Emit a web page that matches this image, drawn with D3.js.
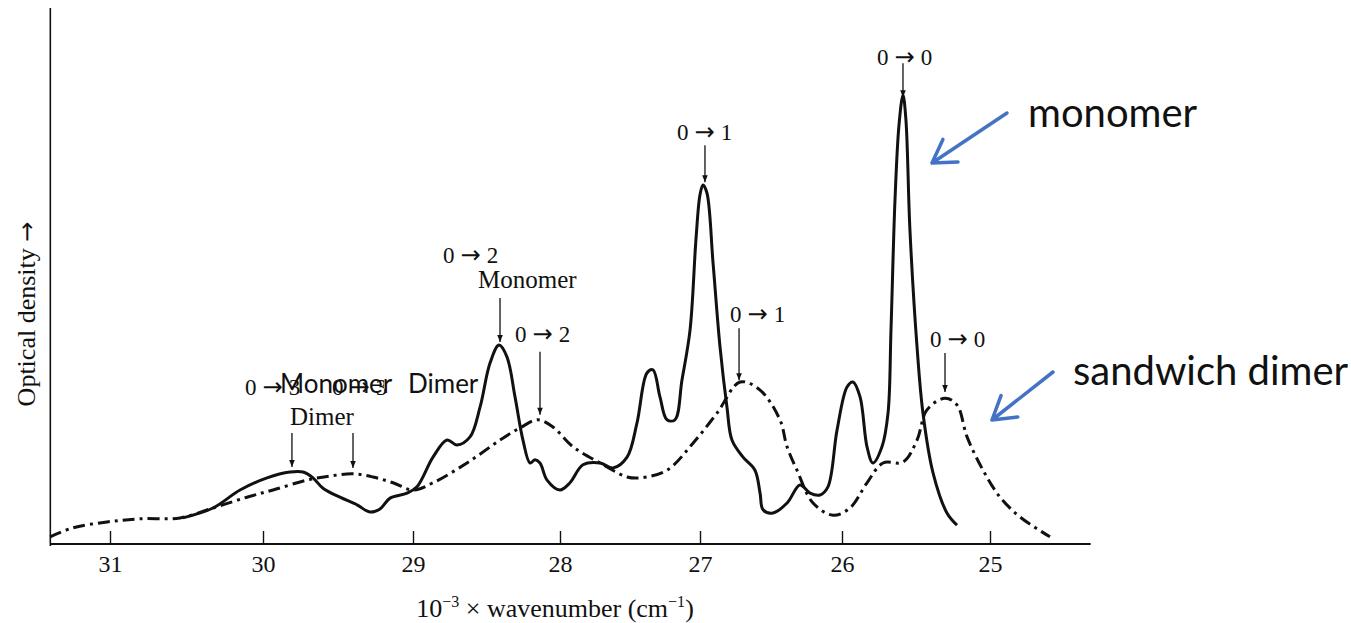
<!DOCTYPE html>
<html>
<head>
<meta charset="utf-8">
<script src="https://cdn.jsdelivr.net/npm/d3@7/dist/d3.min.js"></script>
<style>
  body { margin: 0; background: #fff; }
  svg text { fill: #111; }
  .serif { font-family: "Liberation Serif", "Times New Roman", serif; }
  .sans { font-family: Lato, "Open Sans", sans-serif; }
  .arr { font-family: "DejaVu Sans", sans-serif; }
</style>
</head>
<body>
<svg class="chart"></svg>
<script>
const size = {w: 1351, h: 623};

// wavenumber ticks (10^3 cm^-1), axis runs high -> low
const wnTicks = [31, 30, 29, 28, 27, 26, 25];
const wnLimits = [31.39, 24.32];

// monomer absorption, [wavenumber, optical density]
const monomer = [
    [30.523, 5.8], [30.327, 8.0], [30.150, 12.0], [29.973, 14.7], [29.820, 16.0],
    [29.733, 16.0], [29.667, 14.7], [29.600, 12.4], [29.487, 10.4], [29.373, 8.7],
    [29.287, 7.1], [29.220, 7.8], [29.153, 10.2], [29.040, 11.3], [28.973, 12.7],
    [28.864, 19.3], [28.769, 23.1], [28.701, 22.0], [28.612, 23.8], [28.544, 30.4],
    [28.476, 40.2], [28.415, 44.2], [28.361, 41.6], [28.306, 32.7], [28.252, 23.1],
    [28.204, 18.0], [28.170, 18.7], [28.136, 18.0], [28.088, 14.2], [28.000, 12.0],
    [27.929, 13.6], [27.836, 17.6], [27.714, 18.0], [27.621, 16.9], [27.521, 19.3],
    [27.450, 26.9], [27.379, 38.0], [27.336, 38.7], [27.286, 32.7], [27.236, 27.6],
    [27.179, 27.6], [27.129, 36.4], [27.071, 47.6], [27.029, 67.6], [27.000, 77.6],
    [26.979, 79.8], [26.951, 78.0], [26.908, 62.4], [26.859, 43.8], [26.810, 30.4],
    [26.775, 23.1], [26.697, 19.3], [26.613, 16.4], [26.577, 11.3], [26.556, 7.6],
    [26.486, 6.9], [26.387, 9.1], [26.296, 13.1], [26.225, 11.3], [26.155, 10.9],
    [26.099, 12.7], [26.035, 25.3], [25.966, 34.9], [25.926, 36.0], [25.878, 32.7],
    [25.831, 21.6], [25.791, 18.0], [25.730, 21.6], [25.689, 29.1], [25.669, 47.6],
    [25.642, 76.4], [25.615, 93.1], [25.588, 99.8], [25.568, 94.2], [25.541, 69.8],
    [25.493, 43.8], [25.453, 29.1], [25.385, 15.8], [25.291, 6.9], [25.223, 4.2]
];

// sandwich dimer absorption, [wavenumber, optical density]
const dimer = [
    [31.392, 1.6], [31.242, 3.6], [31.020, 4.9], [30.804, 5.6], [30.542, 5.8],
    [30.327, 8.0], [30.105, 10.4], [29.933, 12.0], [29.707, 14.2], [29.553, 15.1],
    [29.400, 15.6], [29.267, 14.9], [29.133, 13.6], [29.000, 12.0], [28.864, 13.6],
    [28.633, 18.0], [28.408, 23.1], [28.272, 25.8], [28.150, 27.6], [28.048, 26.0],
    [27.907, 21.6], [27.714, 18.0], [27.521, 14.9], [27.429, 14.7], [27.236, 16.4],
    [27.050, 22.4], [26.880, 29.1], [26.718, 36.0], [26.577, 34.2], [26.437, 27.6],
    [26.387, 21.6], [26.317, 16.4], [26.204, 9.1], [26.063, 6.4], [25.946, 8.0],
    [25.831, 13.6], [25.723, 18.0], [25.588, 18.2], [25.493, 23.1], [25.426, 29.8],
    [25.304, 32.4], [25.223, 30.9], [25.155, 23.8], [25.047, 16.4], [24.932, 10.4],
    [24.797, 6.0], [24.595, 1.6]
];

// vibronic bands: from -> to level, wavenumber of the arrow, OD the arrow points at
const bands = [
    {from: 0, to: 0, wn: 25.588, od: 99.3, len: 34, lx: 877, ly: 65},
    {from: 0, to: 1, wn: 26.965, od: 80.4, len: 37, lx: 677, ly: 140},
    {from: 0, to: 2, wn: 28.408, od: 44.9, len: 44, lx: 443, ly: 263},
    {from: 0, to: 2, wn: 28.136, od: 28.7, len: 63, lx: 515, ly: 342},
    {from: 0, to: 1, wn: 26.725, od: 36.4, len: 52, lx: 730, ly: 322},
    {from: 0, to: 0, wn: 25.304, od: 33.8, len: 39, lx: 930, ly: 347},
    {from: 0, to: 3, wn: 29.807, od: 17.1, len: 34, lx: 245, ly: 395},
    {from: 0, to: 3, wn: 29.400, od: 16.9, len: 35, lx: 332, ly: 395}
];

const svg = d3.select('svg.chart')
    .attr('width', size.w)
    .attr('height', size.h);

// printed axis is not quite even, so map each tick to its own spot
const x = d3.scaleLinear()
    .domain(wnTicks)
    .range([110, 263, 413, 560, 700, 842, 990]);

const y = d3.scaleLinear()
    .domain([0, 100])
    .range([544, 94]);

svg.append('defs').append('marker')
    .attr('id', 'tip')
    .attr('markerUnits', 'userSpaceOnUse')
    .attr('viewBox', '0 0 10 10')
    .attr('refX', 10).attr('refY', 5)
    .attr('markerWidth', 10).attr('markerHeight', 7)
    .attr('orient', 'auto')
    .append('path')
    .attr('d', 'M0,1 L10,5 L0,9 Z')
    .attr('fill', '#111');

// axes
svg.append('line')
    .attr('x1', x(wnLimits[0])).attr('x2', x(wnLimits[0]))
    .attr('y1', 8).attr('y2', y(0) + 2)
    .attr('stroke', '#111').attr('stroke-width', 1.6);

svg.append('line')
    .attr('x1', x(wnLimits[0])).attr('x2', x(wnLimits[1]))
    .attr('y1', y(0)).attr('y2', y(0))
    .attr('stroke', '#111').attr('stroke-width', 2);

const xAxis = svg.append('g')
    .attr('transform', `translate(0,${y(0)})`)
    .call(d3.axisBottom(x)
        .tickValues(wnTicks)
        .tickFormat(d3.format('d'))
        .tickSizeInner(-13)
        .tickSizeOuter(0)
        .tickPadding(11));
xAxis.select('.domain').remove();
xAxis.selectAll('.tick line').attr('stroke', '#111').attr('stroke-width', 1.4);
xAxis.selectAll('.tick text')
    .attr('class', 'serif')
    .attr('font-size', 24)
    .attr('fill', '#111');

// writes "a -> b" with a longer arrow than the serif face has
function arrowLabel(sel, a, b) {
    sel.append('tspan').text(a);
    sel.append('tspan').attr('class', 'arr').attr('font-size', '1.05em').attr('dx', 6).text('\u2192');
    sel.append('tspan').attr('dx', 6).text(b);
}

const yLabel = svg.append('text')
    .attr('class', 'serif')
    .attr('transform', 'translate(35,314) rotate(-90)')
    .attr('text-anchor', 'middle')
    .attr('font-size', 26);
yLabel.append('tspan').text('Optical density ');
yLabel.append('tspan').attr('class', 'arr').attr('font-size', 24).text('\u2192');

const xLabel = svg.append('text')
    .attr('class', 'serif')
    .attr('x', 555).attr('y', 617)
    .attr('text-anchor', 'middle')
    .attr('font-size', 26);
xLabel.append('tspan').text('10');
xLabel.append('tspan').attr('dy', -10).attr('font-size', 16).text('\u22123');
xLabel.append('tspan').attr('dy', 10).text(' \u00d7 wavenumber (cm');
xLabel.append('tspan').attr('dy', -10).attr('font-size', 16).text('\u22121');
xLabel.append('tspan').attr('dy', 10).text(')');

// spectra
const lineFn = d3.line()
    .x(d => x(d[0]))
    .y(d => y(d[1]))
    .curve(d3.curveCatmullRom.alpha(0.5));

svg.append('path')
    .datum(dimer)
    .attr('d', lineFn)
    .attr('fill', 'none')
    .attr('stroke', '#111')
    .attr('stroke-width', 3)
    .attr('stroke-dasharray', '12,5,3,5');

svg.append('path')
    .datum(monomer)
    .attr('d', lineFn)
    .attr('fill', 'none')
    .attr('stroke', '#111')
    .attr('stroke-width', 3)
    .attr('stroke-linejoin', 'round');

// band arrows and labels
const bandG = svg.append('g');
bandG.selectAll('line')
    .data(bands)
    .join('line')
    .attr('x1', d => x(d.wn)).attr('x2', d => x(d.wn))
    .attr('y1', d => y(d.od) - d.len).attr('y2', d => y(d.od))
    .attr('stroke', '#111').attr('stroke-width', 1.3)
    .attr('marker-end', 'url(#tip)');

bandG.selectAll('text')
    .data(bands)
    .join('text')
    .attr('class', 'serif')
    .attr('x', d => d.lx).attr('y', d => d.ly)
    .attr('font-size', 23)
    .each(function (d) { arrowLabel(d3.select(this), d.from, d.to); });

svg.append('text')
    .attr('class', 'serif')
    .attr('x', 478).attr('y', 288)
    .attr('font-size', 25)
    .text('Monomer');

svg.append('text')
    .attr('class', 'serif')
    .attr('x', 290).attr('y', 425)
    .attr('font-size', 25)
    .text('Dimer');

// relabelled 0 -> 3 pair
svg.append('rect')
    .attr('x', 384).attr('y', 370)
    .attr('width', 90).attr('height', 19)
    .attr('fill', '#fff');
svg.append('text')
    .attr('class', 'sans')
    .attr('x', 280).attr('y', 393)
    .attr('font-size', 26)
    .text('Monomer');
svg.append('text')
    .attr('class', 'sans')
    .attr('x', 408).attr('y', 393)
    .attr('font-size', 26)
    .text('Dimer');

// callouts
const callouts = [
    {text: 'monomer', tx: 1028, ty: 127, from: [1007, 113], to: [932, 163]},
    {text: 'sandwich dimer', tx: 1073, ty: 385, from: [1053, 372], to: [992, 420]}
];

callouts.forEach(c => {
    const ang = Math.atan2(c.from[1] - c.to[1], c.from[0] - c.to[0]);
    const arm = 26, spread = 0.55;
    const head = [ang - spread, ang + spread]
        .map(a => [c.to[0] + arm * Math.cos(a), c.to[1] + arm * Math.sin(a)]);
    svg.append('path')
        .attr('d', `M${c.from}L${c.to}M${head[0]}L${c.to}L${head[1]}`)
        .attr('fill', 'none')
        .attr('stroke', '#4472c4')
        .attr('stroke-width', 3.5)
        .attr('stroke-linecap', 'round')
        .attr('stroke-linejoin', 'round');
    svg.append('text')
        .attr('class', 'sans')
        .attr('x', c.tx).attr('y', c.ty)
        .attr('font-size', 40)
        .text(c.text);
});
</script>
</body>
</html>
